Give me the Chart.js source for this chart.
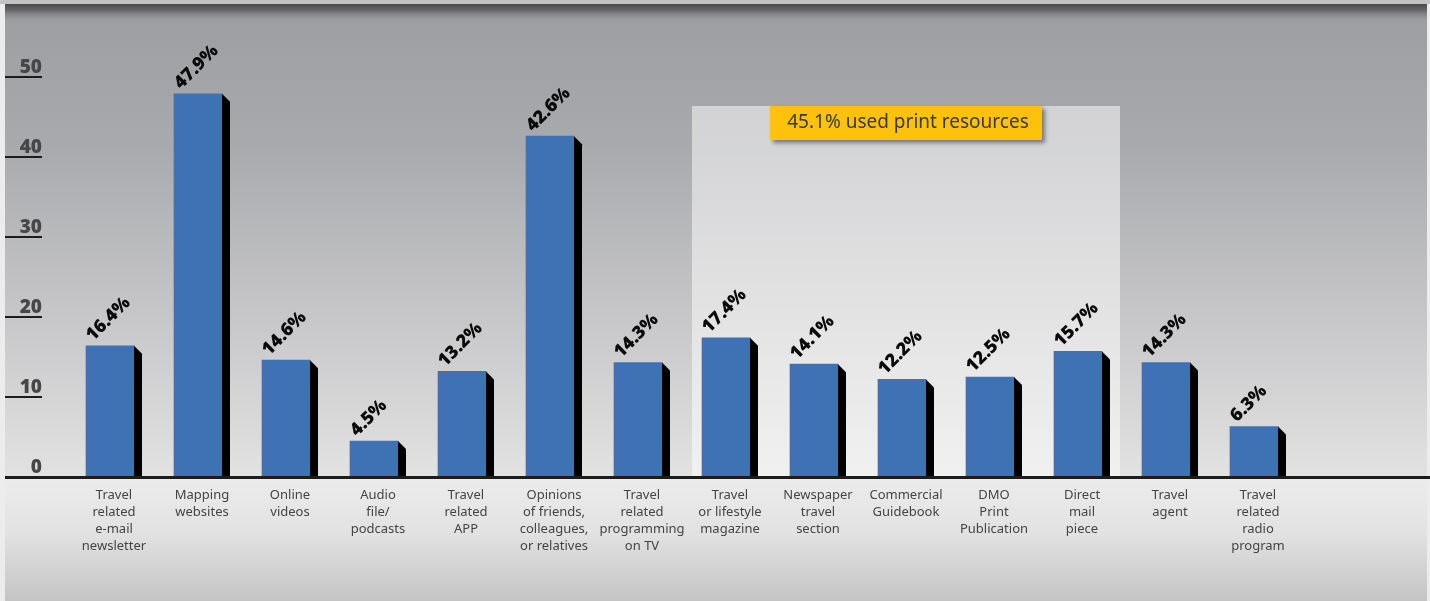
<!DOCTYPE html>
<html>
<head>
<meta charset="utf-8">
<script src="https://cdn.jsdelivr.net/npm/chart.js@4.4.1/dist/chart.umd.min.js"></script>
<style>
  html, body { margin: 0; padding: 0; background: #ececec; }
  #wrap { width: 1430px; height: 601px; }
</style>
</head>
<body>
<div id="wrap"><canvas id="grafica" width="1430" height="601"></canvas></div>
<script>
// categorias (cada una en varias lineas)
const categorias = [
    ['Travel', 'related', 'e-mail', 'newsletter'],
    ['Mapping', 'websites'],
    ['Online', 'videos'],
    ['Audio', 'file/', 'podcasts'],
    ['Travel', 'related', 'APP'],
    ['Opinions', 'of friends,', 'colleagues,', 'or relatives'],
    ['Travel', 'related', 'programming', 'on TV'],
    ['Travel', 'or lifestyle', 'magazine'],
    ['Newspaper', 'travel', 'section'],
    ['Commercial', 'Guidebook'],
    ['DMO', 'Print', 'Publication'],
    ['Direct', 'mail', 'piece'],
    ['Travel', 'agent'],
    ['Travel', 'related', 'radio', 'program']
];
const porcentajes = [16.4, 47.9, 14.6, 4.5, 13.2, 42.6, 14.3, 17.4, 14.1, 12.2, 12.5, 15.7, 14.3, 6.3];
const ticksY = [0, 10, 20, 30, 40, 50];
const grupoImpreso = [7, 11]; // indices del recuadro resaltado
const textoImpreso = '45.1% used print resources';

const fuente = '"Noto Sans", "Open Sans", sans-serif';
const fuenteNegrita = '"Open Sans", "Noto Sans", sans-serif';

// fondo gris con degradado
const fondo = {
    id: 'fondo',
    beforeDraw(chart) {
        const c = chart.ctx;
        const W = chart.width, H = chart.height;
        const ejeY = chart.scales.y.getPixelForValue(0);
        c.save();
        c.fillStyle = '#ececec';
        c.fillRect(0, 0, W, H);
        c.fillStyle = '#c3c3c3';
        c.fillRect(0, 0, W, 4);

        let g = c.createLinearGradient(0, 4, 0, ejeY);
        g.addColorStop(0, '#9c9da1');
        g.addColorStop(0.3, '#a9aaad');
        g.addColorStop(0.7, '#cacacc');
        g.addColorStop(1, '#e2e2e2');
        c.fillStyle = g;
        c.fillRect(5, 4, 1422, ejeY - 4);

        g = c.createLinearGradient(0, ejeY, 0, H);
        g.addColorStop(0, '#ececec');
        g.addColorStop(0.45, '#e2e2e2');
        g.addColorStop(1, '#c4c4c5');
        c.fillStyle = g;
        c.fillRect(5, ejeY, 1422, H - ejeY);

        // sombra superior
        g = c.createLinearGradient(0, 4, 0, 22);
        g.addColorStop(0, 'rgba(70,70,74,0.95)');
        g.addColorStop(0.35, 'rgba(80,80,84,0.7)');
        g.addColorStop(1, 'rgba(150,151,155,0)');
        c.fillStyle = g;
        c.fillRect(5, 4, 1422, 18);
        c.restore();
    }
};

// recuadro de recursos impresos
const recuadro = {
    id: 'recuadro',
    beforeDatasetsDraw(chart) {
        const c = chart.ctx;
        const x = chart.scales.x, y = chart.scales.y;
        const izq = x.getPixelForValue(grupoImpreso[0]) - 34;
        const der = x.getPixelForValue(grupoImpreso[1]) + 42;
        const arriba = 106;
        const abajo = y.getPixelForValue(0);
        c.save();
        c.fillStyle = 'rgba(255,255,255,0.5)';
        c.fillRect(izq, arriba, der - izq, abajo - arriba);

        const centro = (izq + der) / 2;
        const ancho = 272, alto = 34;
        c.shadowColor = 'rgba(60,60,60,0.6)';
        c.shadowBlur = 4;
        c.shadowOffsetX = 3;
        c.shadowOffsetY = 3;
        c.fillStyle = '#ffc20a';
        c.fillRect(centro - ancho / 2, arriba, ancho, alto);
        c.shadowColor = 'transparent';
        c.fillStyle = '#3a3a3a';
        c.font = '19px ' + fuente;
        c.textAlign = 'center';
        c.textBaseline = 'middle';
        c.fillText(textoImpreso, centro + 2, arriba + alto / 2);
        c.restore();
    }
};

// sombra negra de las barras, etiquetas, eje
const extras = {
    id: 'extras',
    afterDatasetsDraw(chart) {
        const c = chart.ctx;
        const meta = chart.getDatasetMeta(0);
        const base = chart.scales.y.getPixelForValue(0);
        c.save();
        meta.data.forEach((barra, i) => {
            const der = barra.x + barra.width / 2;
            const izq = barra.x - barra.width / 2;
            c.fillStyle = '#000';
            c.beginPath();
            c.moveTo(der, barra.y);
            c.lineTo(der + 8, barra.y + 8);
            c.lineTo(der + 8, base);
            c.lineTo(der, base);
            c.closePath();
            c.fill();

            c.save();
            c.translate(izq + 7, barra.y - 4);
            c.rotate(-45 * Math.PI / 180);
            c.fillStyle = '#0a0a0a';
            c.font = '800 18px ' + fuenteNegrita;
            c.textAlign = 'left';
            c.textBaseline = 'alphabetic';
            c.fillText(porcentajes[i].toFixed(1) + '%', 0, 0);
            c.restore();
        });

        c.fillStyle = '#1c1c1c';
        c.fillRect(5, base - 1, chart.width - 5, 3);
        c.restore();
    },
    afterDraw(chart) {
        const c = chart.ctx;
        const y = chart.scales.y;
        c.save();
        c.font = '800 19px ' + fuenteNegrita;
        c.textAlign = 'right';
        c.textBaseline = 'alphabetic';
        ticksY.forEach(v => {
            const py = y.getPixelForValue(v);
            c.fillStyle = '#474747';
            c.fillText(String(v), 42, py - 4);
            if (v > 0) {
                c.fillStyle = '#1c1c1c';
                c.fillRect(5, py - 1, 37, 2);
            }
        });
        c.restore();
    }
};

const ctx = document.getElementById('grafica').getContext('2d');
new Chart(ctx, {
    type: 'bar',
    data: {
        labels: categorias,
        datasets: [{
            data: porcentajes,
            backgroundColor: '#3f72b4',
            borderWidth: 0,
            barThickness: 48
        }]
    },
    options: {
        responsive: false,
        animation: false,
        layout: {
            padding: { left: 66, right: 132, top: 37, bottom: 0 }
        },
        scales: {
            x: {
                grid: { display: false, drawTicks: false },
                border: { display: false },
                ticks: {
                    autoSkip: false,
                    maxRotation: 0,
                    minRotation: 0,
                    padding: 10,
                    labelOffset: 4,
                    color: '#444',
                    font: { family: fuente, size: 13, lineHeight: 1.3 }
                },
                afterFit(scale) { scale.height = 124; }
            },
            y: {
                display: false,
                min: 0,
                max: 55
            }
        },
        plugins: {
            legend: { display: false },
            tooltip: { enabled: false }
        }
    },
    plugins: [fondo, recuadro, extras]
});
</script>
</body>
</html>
